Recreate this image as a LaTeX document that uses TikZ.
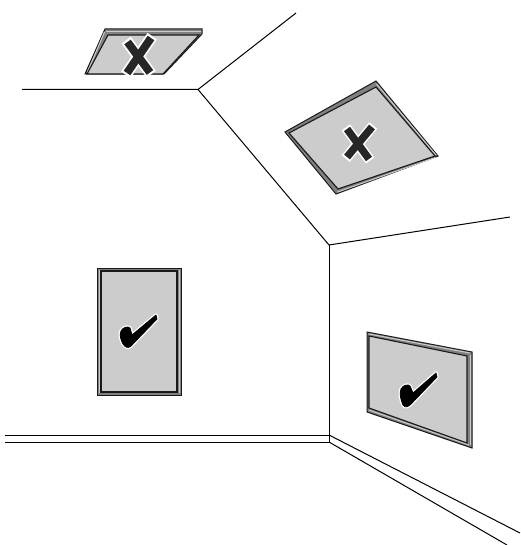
\documentclass[tikz,border=0pt]{standalone}
\begin{document}
\begin{tikzpicture}[x=1pt,y=-1pt,
  wall/.style={draw=black,line width=1pt,line join=miter},
  rim/.style={draw=black!90,line width=1pt,line join=miter},
  panel/.style={draw=black!90,fill=black!20,line width=1.1pt,line join=miter},
  strip/.style={draw=black!20,line width=1pt},
  crossout/.style={draw=white,line width=11.5pt,shorten >=-2.2pt,shorten <=-2.2pt},
  crossin/.style={draw=black!85,line width=8pt,line cap=butt},
  crossoutb/.style={draw=white,line width=10.5pt,shorten >=-2pt,shorten <=-2pt},
  crossinb/.style={draw=black!85,line width=7.5pt,line cap=butt},
  tickout/.style={draw=white,fill=white,line width=3.4pt,line join=round},
  tickin/.style={draw=black,fill=black,line width=0.8pt,line join=round}]
\useasboundingbox (0,0) rectangle (520,545);
% room
\coordinate (a) at (22,89.5); \coordinate (b) at (198,89.5); \coordinate (c) at (296,13);
\coordinate (d) at (329,245); \coordinate (e) at (510,217); \coordinate (f) at (329,435);
\coordinate (g) at (329,442); \coordinate (h) at (5,435); \coordinate (i) at (5,442);
\coordinate (j) at (520,533); \coordinate (k) at (507,545);
\draw[wall] (a)--(b)--(c);
\draw[wall] (b)--(d)--(e);
\draw[wall] (d)--(f);
\draw[wall] (h)--(f)--(g)--(i);
\draw[wall] (f)--(j);
\draw[wall] (g)--(k);
% top panel
\draw[rim,fill=black!50] (105,29)--(202,29)--(202,34)--(164,74)--(85,74)--cycle;
\draw[strip,line width=1.8pt] (106,31.5)--(201,31.5);
\draw[strip] (104.5,32)--(87.5,72);
\draw[panel] (108,35)--(199,35)--(163,74)--(87,74)--cycle;
\draw[crossout] (127.5,42)--(150,72.5); \draw[crossout] (151,38)--(127,73);
\draw[crossin] (127.5,42)--(150,72.5); \draw[crossin] (151,38)--(127,73);
% ceiling panel
\draw[rim,fill=black!50] (376,81)--(438,156)--(336,194)--(285,132)--cycle;
\draw[strip] (376.5,84)--(436,155);
\draw[strip] (337.5,192)--(435,157.5);
\draw[panel] (376,87)--(435,156)--(338,189)--(289,133)--cycle;
\draw[crossoutb] (347,129)--(369,159); \draw[crossoutb] (372,127)--(347,157);
\draw[crossinb] (347,129)--(369,159); \draw[crossinb] (372,127)--(347,157);
% wall panel
\draw[rim,fill=black!50] (97,268)--(181,268)--(181,395)--(97,395)--cycle;
\draw[strip] (99,270)--(99,393);
\draw[strip] (179,270)--(179,393);
\draw[panel] (101,271)--(177,271)--(177,392)--(101,392)--cycle;
\def\tickA{(156,315) -- (157,319) -- (131,346) .. controls (128,349) and (125,347) .. (123,344) .. controls (121,340) and (119,335) .. (121,331) .. controls (123,327) and (128,326) .. (130,328) -- (132,335) -- cycle}
\draw[tickout] \tickA;
\draw[tickin] \tickA;
% right panel
\draw[rim,fill=black!50] (367,332)--(472,352)--(472,448)--(367,412)--cycle;
\draw[strip] (369,334)--(470,353);
\draw[strip] (470,355)--(470,445);
\draw[strip] (369,410)--(469,445);
\draw[panel] (369,336)--(467,356)--(467,443)--(369,408)--cycle;
\def\tickB{(436,373) -- (437,377) -- (411,404) .. controls (408,407) and (405,408) .. (403,405) .. controls (401,400) and (399,394) .. (401,389) .. controls (403,385) and (408,384) .. (410,386) -- (413,393) -- cycle}
\draw[tickout] \tickB;
\draw[tickin] \tickB;
\end{tikzpicture}
\end{document}
